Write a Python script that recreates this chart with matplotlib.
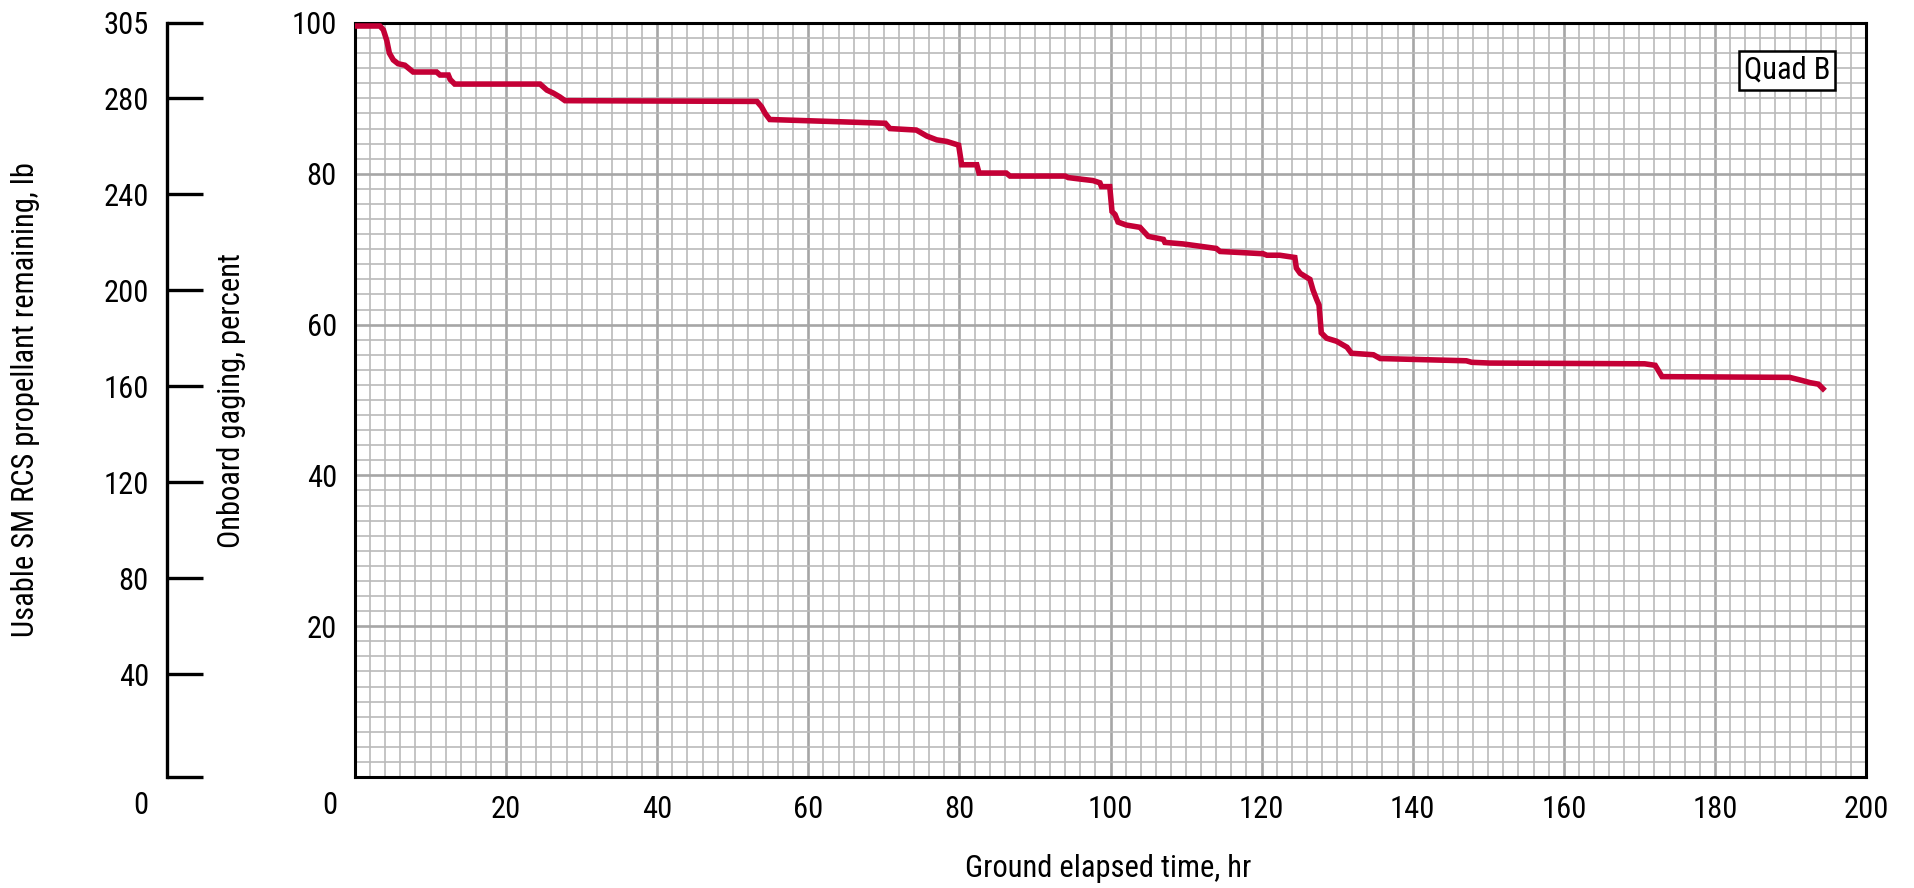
import matplotlib
matplotlib.use("Agg")
import matplotlib.pyplot as plt
from matplotlib import font_manager
from matplotlib.ticker import MultipleLocator, FixedLocator

names = {f.name for f in font_manager.fontManager.ttflist}
FAM = [n for n in ['Roboto Condensed', 'Archivo Narrow', 'Liberation Sans', 'DejaVu Sans'] if n in names]
plt.rcParams['font.family'] = FAM

# ---- data ----
hours = [0.2, 3.3, 3.75, 4.2, 4.55, 5.07, 5.7, 6.6, 7.7, 10.8, 11.25, 12.35, 12.6, 13.2,
         24.5, 25.4, 26.25, 27.1, 27.8, 53.2, 53.8, 54.3, 54.9, 64.2, 70.2, 70.8, 74.3,
         75.7, 77.0, 78.3, 79.9, 80.3, 82.3, 82.6, 86.2, 86.7, 94.0, 94.4, 96.0, 97.7,
         98.6, 98.8, 99.9, 100.2, 100.6, 101.0, 102.1, 103.9, 105.0, 107.0, 107.2, 109.6,
         111.8, 114.0, 114.5, 120.2, 120.7, 122.4, 124.4, 124.6, 125.1, 126.4, 126.8,
         127.3, 127.6, 127.9, 128.6, 129.9, 131.3, 131.9, 134.8, 135.7, 147.1, 147.8,
         150.2, 170.7, 172.1, 173.0, 189.9, 191.5, 192.6, 193.7, 194.3]
gaging_pct = [99.6, 99.6, 99.1, 97.7, 96.0, 95.1, 94.6, 94.4, 93.5, 93.5, 93.1, 93.1, 92.5,
              91.9, 91.9, 91.1, 90.7, 90.2, 89.7, 89.6, 88.9, 88.0, 87.2, 86.9, 86.7, 86.0,
              85.8, 85.0, 84.5, 84.3, 83.8, 81.2, 81.2, 80.1, 80.1, 79.7, 79.7, 79.5, 79.3,
              79.1, 78.8, 78.3, 78.3, 75.0, 74.6, 73.6, 73.2, 72.9, 71.7, 71.3, 70.9, 70.7,
              70.4, 70.1, 69.7, 69.4, 69.2, 69.2, 68.9, 67.5, 66.8, 66.0, 64.6, 63.3, 62.6,
              58.9, 58.2, 57.8, 57.0, 56.2, 56.0, 55.5, 55.2, 55.0, 54.9, 54.8, 54.6, 53.1,
              53.0, 52.6, 52.3, 52.1, 51.5]
x_ticks = [20, 40, 60, 80, 100, 120, 140, 160, 180, 200]
pct_ticks = [20, 40, 60, 80, 100]
lb_ticks = [40, 80, 120, 160, 200, 240, 280]
lb_top_label = "305"
quad_label = "Quad B"

W, H = 1914, 888
FS = 22
fig = plt.figure(figsize=(W / 100, H / 100), dpi=100)

def fx(px):
    return px / W

def fy(py):
    return 1 - py / H

L, R, T, B = 355, 1866, 23, 777
ax = fig.add_axes([fx(L), fy(B), fx(R) - fx(L), fy(T) - fy(B)])
ax.plot(hours, gaging_pct, color='#C40036', lw=4.0, solid_joinstyle='miter', zorder=5)
ax.set_xlim(0, 200)
ax.set_ylim(0, 100)
ax.xaxis.set_major_locator(FixedLocator(x_ticks))
ax.yaxis.set_major_locator(FixedLocator(pct_ticks))
ax.xaxis.set_minor_locator(MultipleLocator(2))
ax.yaxis.set_minor_locator(MultipleLocator(2))
ax.grid(which='minor', color='#BABABA', lw=1.2, zorder=0)
ax.grid(which='major', color='#A6A6A6', lw=1.9, zorder=1)
ax.set_axisbelow(True)
ax.tick_params(which='both', length=0)
ax.tick_params(axis='x', pad=13, labelsize=FS)
ax.tick_params(axis='y', pad=13, labelsize=FS)
for s in ax.spines.values():
    s.set_linewidth(2.2)
    s.set_color('black')

fig.text(fx(337), fy(805), "0", ha='right', va='center', fontsize=FS)

ax.text(0.9477, 0.937, quad_label, transform=ax.transAxes, ha='center', va='center',
        fontsize=FS, zorder=6,
        bbox=dict(boxstyle='square,pad=0.15', fc='white', ec='black', lw=1.8))

# left propellant scale
ax2 = fig.add_axes([fx(167), fy(B), 0.0001, fy(T) - fy(B)])
lo, hi = -2.9, 311.25
ax2.set_ylim(lo, hi)
ax2.set_xticks([])
for k in ['top', 'right', 'bottom']:
    ax2.spines[k].set_visible(False)
ax2.spines['left'].set_linewidth(2.4)
ax2.patch.set_alpha(0)
ax2.set_yticks([lo] + lb_ticks + [hi])
ax2.set_yticklabels([""] + [str(v) for v in lb_ticks] + [lb_top_label])
ax2.tick_params(axis='y', direction='in', length=26, width=2.4, pad=13, labelsize=FS)
fig.text(fx(148), fy(805), "0", ha='right', va='center', fontsize=FS)

fig.text(fx(26), fy(400), "Usable SM RCS propellant remaining, lb", rotation=90,
         ha='center', va='center', fontsize=FS)
fig.text(fx(231), fy(400), "Onboard gaging, percent", rotation=90,
         ha='center', va='center', fontsize=FS)
fig.text(fx(1108), fy(868), "Ground elapsed time, hr", ha='center', va='center', fontsize=FS)

fig.savefig("out.png", dpi=100)
